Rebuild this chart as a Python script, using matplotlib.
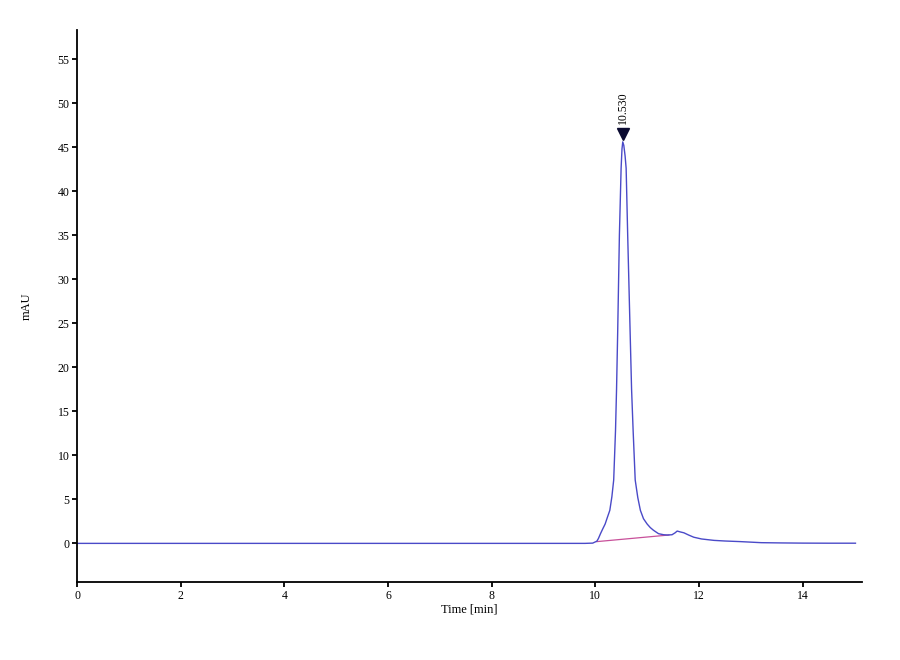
import matplotlib
matplotlib.use("Agg")
import matplotlib.pyplot as plt

# chromatogram
time_min = [0, 2, 4, 6, 8, 9, 9.5, 9.8, 9.95, 10.03, 10.06, 10.10, 10.14, 10.19, 10.23,
            10.28, 10.32, 10.355, 10.39, 10.41, 10.432, 10.465, 10.498, 10.515, 10.53,
            10.55, 10.575, 10.595, 10.625, 10.672, 10.70, 10.73, 10.77, 10.82, 10.87,
            10.93, 11.0, 11.06, 11.12, 11.22, 11.32, 11.39, 11.48, 11.54, 11.58, 11.64,
            11.71, 11.8, 11.9, 12.05, 12.29, 12.5, 12.8, 13.2, 13.6, 14, 14.5, 15.02]
signal_mau = [0, 0, 0, 0, 0, 0, 0, 0, 0.03, 0.25, 0.55, 1.1, 1.6, 2.2, 2.9,
              3.75, 5.3, 7.2, 12.8, 17.5, 24.0, 35.0, 42.6, 44.8, 45.6,
              45.2, 44.0, 42.6, 35.0, 24.0, 17.5, 12.8, 7.2, 5.2, 3.75,
              2.8, 2.2, 1.8, 1.5, 1.1, 0.98, 0.95, 0.98, 1.2, 1.4, 1.3,
              1.2, 0.95, 0.7, 0.5, 0.34, 0.27, 0.2, 0.08, 0.05, 0.03, 0.02, 0.02]
baseline_t = [10.03, 11.42]
baseline_y = [0.2, 0.95]
peak_rt = 10.530
peak_h = 45.6
xticks = [0, 2, 4, 6, 8, 10, 12, 14]
yticks = [0, 5, 10, 15, 20, 25, 30, 35, 40, 45, 50, 55]

plt.rcParams['font.family'] = ['Liberation Serif', 'DejaVu Serif']

fig = plt.figure(figsize=(9, 6.6), dpi=100)
ax = fig.add_axes([0.0856, 0.118, 0.8724, 0.8365])

ax.plot(baseline_t, baseline_y, color='#c8509a', lw=0.9)
ax.plot(time_min, signal_mau, color='#4a4ac8', lw=1.0)

# peak marker + label
ax.plot([peak_rt], [peak_h + 0.9], marker='v', color='#0a0a30', markersize=8, ls='none')
ax.text(peak_rt, peak_h + 2.0, "10.530", rotation=90, ha='center', va='bottom', fontsize=8.5)

ax.set_xlim(0, 15.15)
ax.set_ylim(-4.4, 58.3)
ax.set_xticks(xticks)
ax.set_yticks(yticks)
ax.tick_params(labelsize=8.5, length=3.5, width=1.3, direction='out', pad=2)
ax.spines['top'].set_visible(False)
ax.spines['right'].set_visible(False)
ax.spines['left'].set_linewidth(1.3)
ax.spines['bottom'].set_linewidth(1.3)
ax.set_xlabel("Time [min]", fontsize=9, labelpad=1)
ax.set_ylabel("mAU", fontsize=9, labelpad=18)

plt.savefig('out.png', dpi=100)
